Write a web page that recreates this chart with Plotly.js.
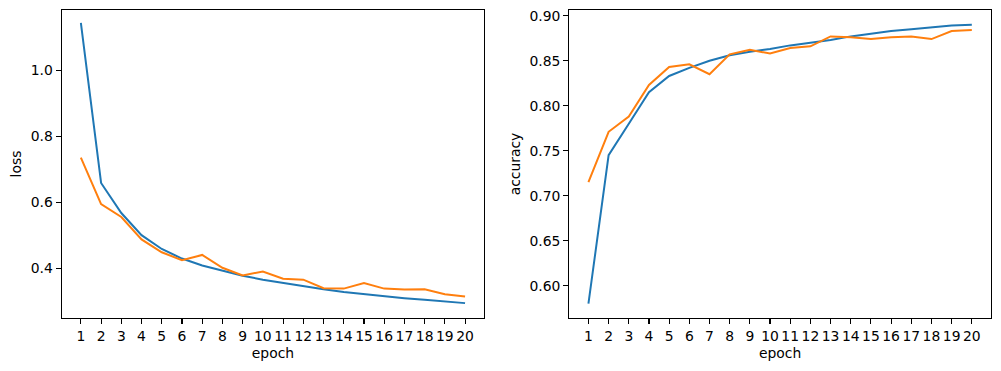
<!DOCTYPE html>
<html>
<head>
<meta charset="utf-8">
<script src="https://cdn.plot.ly/plotly-3.0.1.min.js"></script>
<style>html,body{margin:0;padding:0;background:#fff;}#chart{width:1001px;height:371px;}</style>
</head>
<body>
<div id="chart"></div>
<script>
const epochs = [1,2,3,4,5,6,7,8,9,10,11,12,13,14,15,16,17,18,19,20];
const trainLoss = [1.143,0.658,0.567,0.500,0.458,0.429,0.408,0.393,0.377,0.365,0.355,0.345,0.336,0.328,0.321,0.314,0.309,0.304,0.298,0.294];
const valLoss = [0.735,0.594,0.555,0.487,0.448,0.424,0.440,0.401,0.378,0.390,0.368,0.365,0.339,0.338,0.355,0.338,0.335,0.336,0.321,0.314];
const trainAcc = [0.580,0.745,0.780,0.815,0.833,0.842,0.850,0.856,0.860,0.863,0.867,0.870,0.873,0.877,0.880,0.883,0.885,0.887,0.889,0.890];
const valAcc = [0.715,0.771,0.788,0.823,0.843,0.846,0.835,0.857,0.862,0.858,0.864,0.866,0.877,0.876,0.874,0.876,0.877,0.874,0.883,0.884];
const lossTicks = [0.4,0.6,0.8,1.0];
const accTicks = [0.60,0.65,0.70,0.75,0.80,0.85,0.90];

const blue = '#1f77b4', orange = '#ff7f0e';
const font = {family: 'DejaVu Sans', size: 13.9, color: '#000'};
function line(x, y, c, xa, ya){
  return {x: x, y: y, type: 'scatter', mode: 'lines', line: {color: c, width: 2}, xaxis: xa, yaxis: ya, showlegend: false, hoverinfo: 'skip'};
}
const traces = [
  line(epochs, trainLoss, blue, 'x', 'y'),
  line(epochs, valLoss, orange, 'x', 'y'),
  line(epochs, trainAcc, blue, 'x2', 'y2'),
  line(epochs, valAcc, orange, 'x2', 'y2')
];
const axBase = {showline: true, mirror: true, linecolor: '#000', linewidth: 1.1, ticks: 'outside', ticklen: 5, tickwidth: 1.1, tickcolor: '#000', showgrid: false, zeroline: false, tickfont: font, automargin: false};
const layout = {
  width: 1001, height: 371,
  margin: {l: 0, r: 0, t: 0, b: 0},
  paper_bgcolor: '#fff', plot_bgcolor: '#fff',
  font: font,
  xaxis: Object.assign({}, axBase, {domain: [0.0616, 0.4838], range: [0.05, 20.95], tickmode: 'array', tickvals: epochs, ticktext: epochs.map(String), title: {text: 'epoch', font: font, standoff: 5}, anchor: 'y'}),
  yaxis: Object.assign({}, axBase, {domain: [0.1429, 0.973], range: [0.249, 1.182], tickmode: 'array', tickvals: lossTicks, ticktext: lossTicks.map(v => v.toFixed(1)), title: {text: 'loss', font: font, standoff: 5}, anchor: 'x'}),
  xaxis2: Object.assign({}, axBase, {domain: [0.5687, 0.990], range: [0.05, 20.95], tickmode: 'array', tickvals: epochs, ticktext: epochs.map(String), title: {text: 'epoch', font: font, standoff: 5}, anchor: 'y2'}),
  yaxis2: Object.assign({}, axBase, {domain: [0.1429, 0.973], range: [0.5641, 0.9063], tickmode: 'array', tickvals: accTicks, ticktext: accTicks.map(v => v.toFixed(2)), title: {text: 'accuracy', font: font, standoff: 5}, anchor: 'x2'})
};
Plotly.newPlot('chart', traces, layout, {displayModeBar: false, staticPlot: true});
</script>
</body>
</html>
